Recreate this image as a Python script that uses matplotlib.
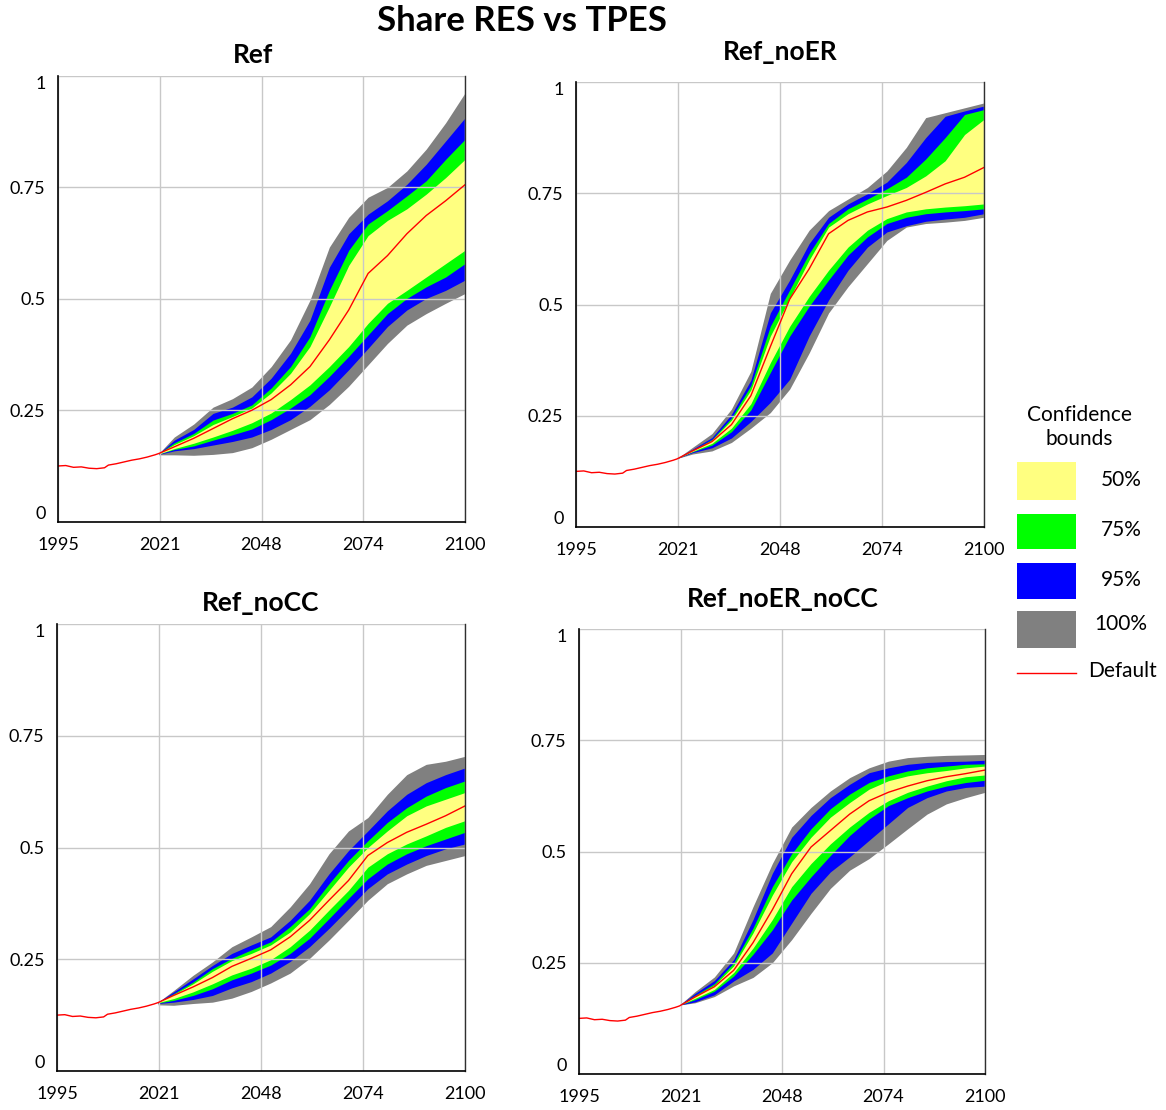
import matplotlib
matplotlib.use("Agg")
import matplotlib.pyplot as plt
from matplotlib.patches import Rectangle
from matplotlib.lines import Line2D

plt.rcParams['font.family'] = ['Lato', 'DejaVu Sans']

# ---------------- data ----------------
hist_years = [1995, 1997, 1999, 2001, 2003, 2005, 2007, 2008, 2010, 2012, 2014, 2016, 2018, 2020, 2021]
hist_vals = [0.125, 0.126, 0.122, 0.123, 0.120, 0.119, 0.121, 0.127, 0.130, 0.134, 0.138, 0.141, 0.145, 0.150, 0.153]

years = [2021, 2025, 2030, 2035, 2040, 2045, 2050, 2055, 2060, 2065, 2070, 2075, 2080, 2085, 2090, 2095, 2100]

# Ref
ref_default = [0.153, 0.168, 0.187, 0.209, 0.231, 0.250, 0.274, 0.307, 0.348, 0.408, 0.475, 0.557, 0.597, 0.646, 0.687, 0.720, 0.756]
ref_p100_hi = [0.153, 0.190, 0.219, 0.257, 0.276, 0.302, 0.348, 0.408, 0.497, 0.616, 0.683, 0.728, 0.750, 0.787, 0.836, 0.895, 0.962]
ref_p95_hi = [0.153, 0.183, 0.207, 0.243, 0.257, 0.280, 0.322, 0.378, 0.452, 0.571, 0.646, 0.690, 0.720, 0.757, 0.802, 0.854, 0.906]
ref_p75_hi = [0.153, 0.177, 0.198, 0.228, 0.243, 0.262, 0.300, 0.348, 0.415, 0.519, 0.609, 0.668, 0.698, 0.731, 0.765, 0.813, 0.858]
ref_p50_hi = [0.153, 0.173, 0.193, 0.218, 0.236, 0.255, 0.289, 0.333, 0.393, 0.482, 0.575, 0.642, 0.676, 0.702, 0.735, 0.772, 0.813]
ref_p50_lo = [0.152, 0.164, 0.176, 0.190, 0.205, 0.222, 0.244, 0.274, 0.307, 0.348, 0.393, 0.445, 0.490, 0.519, 0.549, 0.579, 0.609]
ref_p75_lo = [0.152, 0.162, 0.170, 0.183, 0.195, 0.208, 0.229, 0.255, 0.285, 0.326, 0.371, 0.419, 0.467, 0.501, 0.527, 0.549, 0.579]
ref_p95_lo = [0.151, 0.159, 0.164, 0.172, 0.180, 0.190, 0.207, 0.229, 0.259, 0.296, 0.341, 0.389, 0.438, 0.475, 0.501, 0.519, 0.542]
ref_p100_lo = [0.150, 0.150, 0.149, 0.151, 0.155, 0.166, 0.185, 0.207, 0.229, 0.263, 0.304, 0.352, 0.400, 0.441, 0.467, 0.490, 0.512]

# Ref_noER
noer_default = [0.154, 0.171, 0.192, 0.230, 0.295, 0.405, 0.512, 0.580, 0.659, 0.689, 0.708, 0.719, 0.734, 0.752, 0.771, 0.786, 0.808]
noer_p100_hi = [0.154, 0.179, 0.210, 0.265, 0.350, 0.525, 0.600, 0.667, 0.711, 0.737, 0.763, 0.800, 0.853, 0.920, 0.931, 0.942, 0.953]
noer_p95_hi = [0.154, 0.175, 0.201, 0.253, 0.330, 0.481, 0.555, 0.637, 0.696, 0.726, 0.749, 0.775, 0.819, 0.875, 0.923, 0.935, 0.946]
noer_p75_hi = [0.154, 0.173, 0.197, 0.245, 0.318, 0.451, 0.533, 0.615, 0.682, 0.715, 0.737, 0.760, 0.786, 0.827, 0.875, 0.927, 0.938]
noer_p50_hi = [0.154, 0.172, 0.195, 0.240, 0.308, 0.429, 0.514, 0.600, 0.674, 0.704, 0.726, 0.745, 0.763, 0.789, 0.823, 0.882, 0.916]
noer_p50_lo = [0.154, 0.170, 0.188, 0.222, 0.277, 0.369, 0.451, 0.518, 0.577, 0.629, 0.667, 0.693, 0.708, 0.715, 0.719, 0.722, 0.726]
noer_p75_lo = [0.154, 0.169, 0.184, 0.214, 0.263, 0.347, 0.429, 0.496, 0.555, 0.611, 0.652, 0.682, 0.696, 0.704, 0.708, 0.711, 0.715]
noer_p95_lo = [0.154, 0.167, 0.178, 0.200, 0.237, 0.280, 0.332, 0.429, 0.510, 0.577, 0.629, 0.663, 0.677, 0.687, 0.692, 0.696, 0.704]
noer_p100_lo = [0.154, 0.164, 0.171, 0.190, 0.222, 0.257, 0.310, 0.391, 0.481, 0.540, 0.592, 0.644, 0.674, 0.682, 0.685, 0.689, 0.696]

# Ref_noCC
nocc_default = [0.154, 0.169, 0.188, 0.209, 0.234, 0.252, 0.271, 0.300, 0.337, 0.382, 0.426, 0.482, 0.511, 0.534, 0.552, 0.571, 0.593]
nocc_p100_hi = [0.154, 0.180, 0.214, 0.244, 0.278, 0.300, 0.323, 0.367, 0.419, 0.486, 0.537, 0.567, 0.619, 0.663, 0.686, 0.693, 0.704]
nocc_p95_hi = [0.154, 0.177, 0.206, 0.236, 0.263, 0.282, 0.300, 0.337, 0.382, 0.441, 0.493, 0.537, 0.582, 0.619, 0.645, 0.663, 0.678]
nocc_p75_hi = [0.154, 0.173, 0.199, 0.229, 0.252, 0.271, 0.289, 0.323, 0.363, 0.419, 0.471, 0.515, 0.556, 0.589, 0.615, 0.634, 0.649]
nocc_p50_hi = [0.154, 0.171, 0.195, 0.223, 0.247, 0.263, 0.282, 0.311, 0.352, 0.404, 0.456, 0.500, 0.537, 0.571, 0.593, 0.608, 0.623]
nocc_p50_lo = [0.153, 0.162, 0.177, 0.195, 0.215, 0.230, 0.249, 0.278, 0.315, 0.360, 0.404, 0.456, 0.486, 0.508, 0.526, 0.545, 0.560]
nocc_p75_lo = [0.152, 0.158, 0.169, 0.184, 0.204, 0.219, 0.237, 0.263, 0.297, 0.341, 0.386, 0.430, 0.463, 0.486, 0.504, 0.519, 0.534]
nocc_p95_lo = [0.151, 0.154, 0.160, 0.169, 0.186, 0.200, 0.219, 0.245, 0.278, 0.319, 0.363, 0.408, 0.441, 0.463, 0.482, 0.497, 0.508]
nocc_p100_lo = [0.148, 0.147, 0.151, 0.154, 0.163, 0.178, 0.197, 0.219, 0.252, 0.293, 0.337, 0.382, 0.419, 0.441, 0.460, 0.471, 0.482]

# Ref_noER_noCC
both_default = [0.155, 0.173, 0.196, 0.233, 0.295, 0.369, 0.450, 0.510, 0.547, 0.584, 0.614, 0.633, 0.647, 0.659, 0.668, 0.675, 0.683]
both_p100_hi = [0.155, 0.185, 0.218, 0.272, 0.376, 0.473, 0.555, 0.599, 0.636, 0.666, 0.688, 0.703, 0.711, 0.714, 0.716, 0.717, 0.718]
both_p95_hi = [0.155, 0.181, 0.210, 0.257, 0.347, 0.451, 0.532, 0.581, 0.621, 0.651, 0.677, 0.688, 0.696, 0.700, 0.702, 0.703, 0.705]
both_p75_hi = [0.155, 0.177, 0.203, 0.250, 0.328, 0.421, 0.495, 0.551, 0.596, 0.629, 0.655, 0.670, 0.681, 0.688, 0.692, 0.696, 0.697]
both_p50_hi = [0.155, 0.175, 0.199, 0.243, 0.317, 0.402, 0.477, 0.532, 0.577, 0.610, 0.640, 0.659, 0.670, 0.677, 0.682, 0.688, 0.692]
both_p50_lo = [0.155, 0.170, 0.190, 0.228, 0.283, 0.347, 0.421, 0.473, 0.517, 0.555, 0.588, 0.614, 0.633, 0.647, 0.659, 0.668, 0.672]
both_p75_lo = [0.155, 0.167, 0.186, 0.220, 0.269, 0.324, 0.391, 0.443, 0.491, 0.536, 0.573, 0.603, 0.621, 0.636, 0.647, 0.655, 0.660]
both_p95_lo = [0.155, 0.162, 0.178, 0.209, 0.235, 0.272, 0.339, 0.406, 0.454, 0.488, 0.525, 0.562, 0.599, 0.621, 0.636, 0.644, 0.647]
both_p100_lo = [0.155, 0.160, 0.174, 0.198, 0.217, 0.250, 0.302, 0.361, 0.417, 0.458, 0.484, 0.517, 0.551, 0.584, 0.607, 0.621, 0.633]

titles = ["Ref", "Ref_noER", "Ref_noCC", "Ref_noER_noCC"]
xtick_vals = [1995, 2021.25, 2047.5, 2073.75, 2100]
xtick_labels = ["1995", "2021", "2048", "2074", "2100"]
ytick_vals = [0, 0.25, 0.5, 0.75, 1]
ytick_labels = ["0", "0.25", "0.5", "0.75", "1"]
legend_labels = ["50%", "75%", "95%", "100%"]

C_YEL = "#FFFF80"
C_GRN = "#00FF00"
C_BLU = "#0000FF"
C_GRY = "#808080"
C_RED = "#FF0000"

scenarios = [
    (ref_default, ref_p100_lo, ref_p100_hi, ref_p95_lo, ref_p95_hi, ref_p75_lo, ref_p75_hi, ref_p50_lo, ref_p50_hi),
    (noer_default, noer_p100_lo, noer_p100_hi, noer_p95_lo, noer_p95_hi, noer_p75_lo, noer_p75_hi, noer_p50_lo, noer_p50_hi),
    (nocc_default, nocc_p100_lo, nocc_p100_hi, nocc_p95_lo, nocc_p95_hi, nocc_p75_lo, nocc_p75_hi, nocc_p50_lo, nocc_p50_hi),
    (both_default, both_p100_lo, both_p100_hi, both_p95_lo, both_p95_hi, both_p75_lo, both_p75_hi, both_p50_lo, both_p50_hi),
]

# ---------------- figure ----------------
W, H = 1166, 1110
fig = plt.figure(figsize=(W / 100, H / 100), dpi=100)


def px_rect(left, top, right, bottom):
    return [left / W, 1 - bottom / H, (right - left) / W, (bottom - top) / H]


axes_px = [
    (58, 76, 465, 521.7),
    (576, 82, 984, 527),
    (57, 624, 465, 1071),
    (579, 629, 985, 1074),
]
title_px = [(253, 55), (780, 52), (261, 603), (783, 599)]

for i, (rect, sc) in enumerate(zip(axes_px, scenarios)):
    ax = fig.add_axes(px_rect(*rect))
    dflt, g_lo, g_hi, b_lo, b_hi, gr_lo, gr_hi, y_lo, y_hi = sc
    ax.fill_between(years, g_lo, g_hi, color=C_GRY, lw=0, zorder=1)
    ax.fill_between(years, b_lo, b_hi, color=C_BLU, lw=0, zorder=1)
    ax.fill_between(years, gr_lo, gr_hi, color=C_GRN, lw=0, zorder=1)
    ax.fill_between(years, y_lo, y_hi, color=C_YEL, lw=0, zorder=1)
    ax.plot(hist_years + years[1:], hist_vals + dflt[1:], color=C_RED, lw=1, zorder=4)

    ax.set_xlim(1995, 2100)
    ax.set_ylim(0, 1)
    ax.set_xticks(xtick_vals)
    ax.set_xticklabels(xtick_labels)
    ax.set_yticks(ytick_vals)
    ax.set_yticklabels(ytick_labels)
    ax.tick_params(axis='x', length=0, labelsize=13, pad=11)
    ax.tick_params(axis='y', length=0, labelsize=13, pad=9)
    ylabs = ax.get_yticklabels()
    ylabs[-1].set_va('top')
    ylabs[0].set_va('bottom')
    ax.grid(True, color="#c8c8c8", lw=1, zorder=2)
    ax.set_axisbelow(False)
    ax.spines['top'].set_visible(False)
    for s in ['left', 'bottom']:
        ax.spines[s].set_color('black')
        ax.spines[s].set_linewidth(1.2)
    ax.spines['right'].set_color('#303030')
    ax.spines['right'].set_linewidth(1.0)
    for sp in ax.spines.values():
        sp.set_zorder(5)

    tx, ty = title_px[i]
    fig.text(tx / W, 1 - ty / H, titles[i], ha='center', va='center',
             fontsize=19, fontweight='bold')

fig.text(522 / W, 1 - 21 / H, "Share RES vs TPES", ha='center', va='center',
         fontsize=25, fontweight='bold')

# ---------------- legend ----------------
fig.text(1079 / W, 1 - 427 / H, "Confidence\nbounds", ha='center', va='center',
         fontsize=15, linespacing=1.2)
patch_px = [(462, 500), (514, 549), (563, 599), (611, 648)]
patch_cols = [C_YEL, C_GRN, C_BLU, C_GRY]
label_y = [480, 530, 580, 624]
for (t, b), c, lab, ly in zip(patch_px, patch_cols, legend_labels, label_y):
    fig.add_artist(Rectangle((1017 / W, 1 - b / H), 59 / W, (b - t) / H,
                             transform=fig.transFigure, facecolor=c, edgecolor='none'))
    fig.text(1121 / W, 1 - ly / H, lab, ha='center', va='center', fontsize=15)
fig.add_artist(Line2D([1017 / W, 1076 / W], [1 - 673 / H, 1 - 673 / H],
                      transform=fig.transFigure, color=C_RED, lw=1))
fig.text(1088 / W, 1 - 671 / H, "Default", ha='left', va='center', fontsize=15)

fig.savefig("out.png", dpi=100)
